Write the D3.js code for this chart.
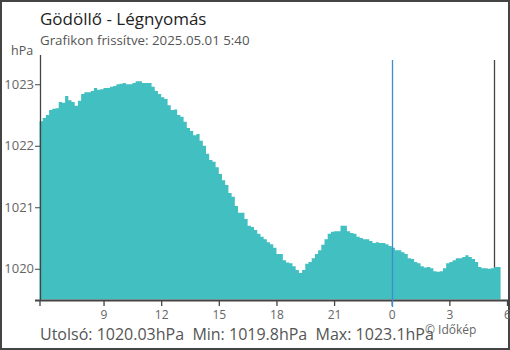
<!DOCTYPE html>
<html><head><meta charset="utf-8">
<script src="https://cdn.jsdelivr.net/npm/d3@7"></script>
<style>
html,body{margin:0;padding:0;background:#fff;}
svg{display:block;font-family:"Open Sans",sans-serif;}
</style></head>
<body><svg id="c" width="510" height="350"></svg>
<script>
// Data: 10-minute readings from 2025-04-30 05:40 to 2025-05-01 05:30 (hPa)
const startTime = "2025-04-30T05:40:00";
const endTime = "2025-05-01T06:00:00";
const stepMinutes = 10;
const pressure = [
 1022.40,1022.45,1022.50,1022.58,1022.60,1022.61,1022.71,1022.70,1022.81,1022.74,
 1022.71,1022.65,1022.73,1022.84,1022.87,1022.87,1022.89,1022.94,1022.91,1022.92,
 1022.94,1022.94,1022.96,1022.97,1023.00,1023.01,1023.02,1023.00,1023.00,1023.02,
 1023.05,1023.05,1023.02,1023.02,1023.02,1022.96,1022.89,1022.84,1022.79,1022.76,
 1022.66,1022.58,1022.59,1022.50,1022.47,1022.39,1022.29,1022.24,1022.17,1022.19,
 1022.08,1022.00,1021.87,1021.77,1021.74,1021.65,1021.54,1021.44,1021.36,1021.23,
 1021.17,1021.02,1020.91,1020.91,1020.81,1020.70,1020.68,1020.63,1020.57,1020.52,
 1020.48,1020.43,1020.40,1020.34,1020.24,1020.24,1020.14,1020.10,1020.09,1020.04,
 1019.98,1019.93,1019.98,1020.08,1020.11,1020.17,1020.24,1020.30,1020.39,1020.48,
 1020.57,1020.60,1020.61,1020.61,1020.70,1020.70,1020.61,1020.58,1020.57,1020.52,
 1020.50,1020.48,1020.48,1020.45,1020.42,1020.43,1020.42,1020.42,1020.40,1020.37,
 1020.34,1020.30,1020.30,1020.27,1020.24,1020.17,1020.16,1020.11,1020.09,1020.04,
 1020.02,1020.03,1020.01,1019.96,1019.95,1019.96,1020.01,1020.09,1020.11,1020.14,
 1020.17,1020.17,1020.19,1020.22,1020.19,1020.16,1020.11,1020.03,1020.01,1020.01,
 1020.00,1020.01,1020.03,1020.03
];
const yTicks = [1020, 1021, 1022, 1023];
const xTickHours = ["2025-04-30T09:00","2025-04-30T12:00","2025-04-30T15:00","2025-04-30T18:00","2025-04-30T21:00","2025-05-01T00:00","2025-05-01T03:00","2025-05-01T06:00"];
const midnight = "2025-05-01T00:00";
const nowMark = "2025-05-01T05:20";
const title = "Gödöllő - Légnyomás";
const subtitle = "Grafikon frissítve: 2025.05.01 5:40";
const unit = "hPa";
const footer = "Utolsó: 1020.03hPa  Min: 1019.8hPa  Max: 1023.1hPa";
const credit = "© Időkép";

const svg = d3.select("#c");
const parse = s => new Date(s);
const t0 = parse(startTime);
const data = pressure.map((v, i) => ({t: new Date(t0.getTime() + i*stepMinutes*60000), v}));
const last = data[data.length-1];
const stepData = data.concat([{t: new Date(last.t.getTime()+stepMinutes*60000), v: last.v}]);

const x = d3.scaleTime().domain([t0, parse(endTime)]).range([39.5, 507]);
const y = d3.scaleLinear().domain([1019.5, 1023.5]).range([299.5, 53.5]);
const col = "#42bfc1";
const axisCol = "#444";
const textCol = "#666";

// border
svg.append("rect").attr("x",1).attr("y",1).attr("width",508).attr("height",348)
  .attr("fill","none").attr("stroke",axisCol).attr("stroke-width",2);

// now marker (behind area)
const nx = Math.round(x(parse(nowMark)))+0.5;
svg.append("line").attr("x1",nx).attr("x2",nx)
  .attr("y1",60).attr("y2",y(1019.97)).attr("stroke","#444").attr("stroke-width",1.3);

// pressure area (step)
const area = d3.area().curve(d3.curveStepAfter)
  .x(d => x(d.t)).y0(y(1019.5)).y1(d => y(d.v));
svg.append("path").datum(stepData).attr("d", area).attr("fill", col);

// y axis
const yAxis = svg.append("g").attr("transform","translate(40,0)")
  .call(d3.axisLeft(y).tickValues(yTicks).tickSize(5).tickPadding(1).tickFormat(d3.format("d")));
yAxis.select(".domain").attr("d","M0.5,55V300").attr("stroke",axisCol).attr("stroke-width",1.3);
yAxis.selectAll(".tick line").attr("stroke",axisCol).attr("x1",0.5);
yAxis.selectAll(".tick text").attr("fill",textCol).attr("font-size",13).attr("font-family","Open Sans");

// x axis
const xTicks = [t0].concat(xTickHours.map(parse));
const xAxis = svg.append("g").attr("transform","translate(0,300)")
  .call(d3.axisBottom(x).tickValues(xTicks).tickSize(6).tickPadding(4)
    .tickFormat((d,i) => i===0 ? "" : String(d.getHours())));
xAxis.select(".domain").attr("d","M35,0.5H508").attr("stroke",axisCol).attr("stroke-width",2);
xAxis.selectAll(".tick line").attr("stroke",axisCol).attr("stroke-width",1.3);
xAxis.selectAll(".tick text").attr("fill",textCol).attr("font-size",12).attr("font-family","Open Sans");

// midnight line
const mx = Math.round(x(parse(midnight)))+0.5;
svg.append("line").attr("x1",mx).attr("x2",mx).attr("y1",60).attr("y2",307)
  .attr("stroke","#3b8fd1").attr("stroke-width",1.3);

// texts
svg.append("text").attr("x",40).attr("y",25).attr("font-size",17).attr("fill","#222").text(title);
svg.append("text").attr("x",40).attr("y",45).attr("font-size",13.3).attr("fill","#555").text(subtitle);
svg.append("text").attr("x",11).attr("y",55).attr("font-size",12.5).attr("fill","#555").text(unit);
svg.append("text").attr("x",40).attr("y",340).attr("font-size",16).attr("fill","#555")
  .attr("xml:space","preserve").style("white-space","pre").text(footer);
svg.append("text").attr("x",425).attr("y",334).attr("font-size",12).attr("fill","#666").text(credit);
</script></body></html>
